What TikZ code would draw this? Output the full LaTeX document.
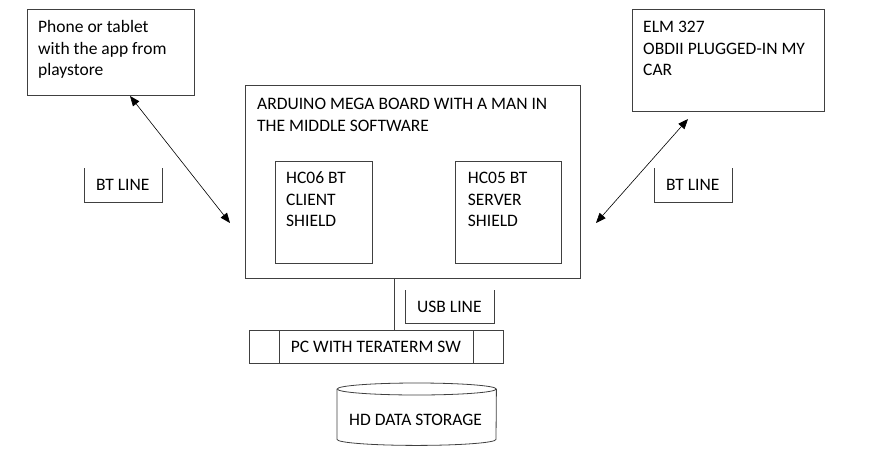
\documentclass[tikz,border=0pt]{standalone}
\usepackage{fontspec}
\setmainfont{Carlito}
\usetikzlibrary{arrows.meta}
\tikzset{
  boxline/.style={draw=black!75, line width=0.8pt},
  box/.style={boxline, anchor=north west, inner sep=0pt},
  txt/.style={anchor=base west, inner sep=0pt, align=left, font=\fontsize{17.5}{21.7}\selectfont},
  arr/.style={line width=0.6pt, {Triangle[length=10pt,width=8pt]}-{Triangle[length=10pt,width=8pt]}},
}
\begin{document}
\begin{tikzpicture}[x=1pt,y=-1pt]
\useasboundingbox (0,0) rectangle (882,455);
% boxes
\node[box, minimum width=167, minimum height=86] (phone) at (27,9) {};
\node[box, minimum width=192, minimum height=102] (elm) at (632,9) {};
\node[box, minimum width=335, minimum height=193] (ard) at (245,85) {};
\node[box, minimum width=97, minimum height=102] (hc06) at (275,161) {};
\node[box, minimum width=106, minimum height=102] (hc05) at (455,161) {};
\node[box, minimum width=254, minimum height=33] (pc) at (249,330) {};
\draw[boxline] (pc.north west) ++(30,0) coordinate (pcl) -- (pcl |- pc.south);
\draw[boxline] (pc.north east) ++(-30,0) coordinate (pcr) -- (pcr |- pc.south);
% open-top label boxes
\node[anchor=north west, inner sep=0pt, minimum width=78, minimum height=34] (btl) at (84,168) {};
\draw[boxline] (btl.north west) -- (btl.south west) -- (btl.south east) -- (btl.north east);
\node[anchor=north west, inner sep=0pt, minimum width=78, minimum height=34] (btr) at (654,168) {};
\draw[boxline] (btr.north west) -- (btr.south west) -- (btr.south east) -- (btr.north east);
\node[anchor=north west, inner sep=0pt, minimum width=89, minimum height=33] (usbl) at (405,290) {};
\draw[boxline] (usbl.north west) -- (usbl.south west) -- (usbl.south east) -- (usbl.north east);
% cylinder
\node[anchor=north west, inner sep=0pt, minimum width=159, minimum height=62] (hd) at (337,383) {};
\draw[boxline] ([yshift=-6pt]hd.north) ellipse [x radius=79.5, y radius=6];
\draw[boxline] ([yshift=-6pt]hd.north west) -- ([yshift=6pt]hd.south west)
  arc[start angle=180, end angle=0, x radius=79.5, y radius=6]
  -- ([yshift=-6pt]hd.north east);
% texts (anchor = baseline of last line)
\node[txt] (tphone) at (38,75.7) {Phone or tablet\\with the app from\\playstore};
\node[txt] (telm) at (643,75.7) {ELM 327\\OBDII PLUGGED-IN MY\\CAR};
\node[txt] (tard) at (257,131) {ARDUINO MEGA BOARD WITH A MAN IN\\THE MIDDLE SOFTWARE};
\node[txt] (thc06) at (286,226.7) {HC06 BT\\CLIENT\\SHIELD};
\node[txt] (thc05) at (467.7,226.7) {HC05 BT\\SERVER\\SHIELD};
\node[txt] (tbtl) at (96,190.7) {BT LINE};
\node[txt] (tbtr) at (666,190.7) {BT LINE};
\node[txt] (tusb) at (417,312.7) {USB LINE};
\node[txt] (tpc) at (290.7,352.3) {PC WITH TERATERM SW};
\node[txt] (thd) at (349,425.7) {HD DATA STORAGE};
% connectors
\coordinate (a1) at (130,96);
\coordinate (a2) at (230,223);
\draw[arr] (a1) -- (a2);
\coordinate (b1) at (688,119);
\coordinate (b2) at (596,223);
\draw[arr] (b1) -- (b2);
\coordinate (u) at (394,279);
\draw[boxline] (ard.south -| u) -- (pc.north -| u);
\end{tikzpicture}
\end{document}
